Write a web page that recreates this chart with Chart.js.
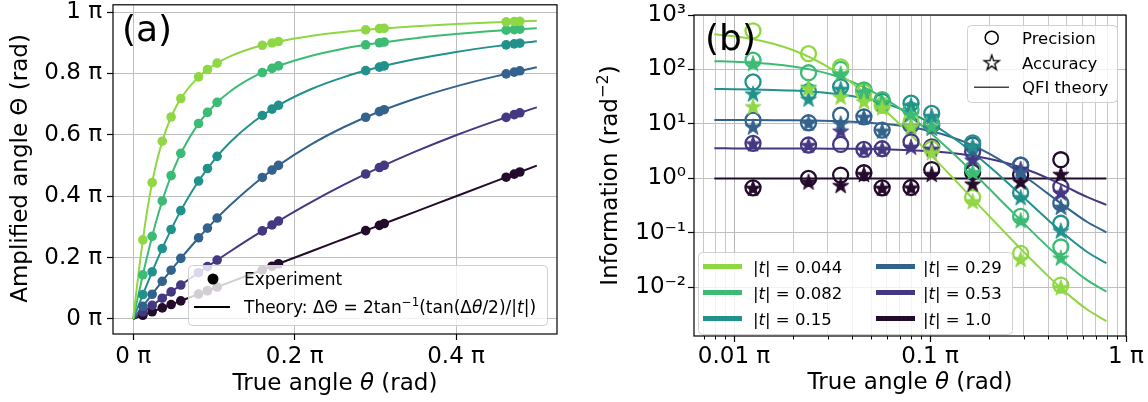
<!DOCTYPE html>
<html><head><meta charset="utf-8">
<script src="https://cdn.jsdelivr.net/npm/chart.js@4.4.1/dist/chart.umd.min.js"></script>
<style>
html,body{margin:0;padding:0;background:#fff;width:1148px;height:402px;overflow:hidden}
#ca{position:absolute;left:0;top:0;width:575px;height:402px}
#cb{position:absolute;left:575px;top:0;width:573px;height:402px}
</style></head><body>
<canvas id="ca" width="575" height="402"></canvas>
<canvas id="cb" width="573" height="402"></canvas>
<script>
// ---------------- data ----------------
const tLabels = ['0.044', '0.082', '0.15', '0.29', '0.53', '1.0'];
const seriesColors = ['#8fd744', '#3cbb75', '#21918c', '#33638d', '#453781', '#230b2b'];

// panel (a): theory curves, theta/pi vs Theta/pi
const thetaA = [0, 0.005, 0.01, 0.015, 0.02, 0.025, 0.03, 0.04, 0.05, 0.06, 0.08, 0.10, 0.12, 0.15, 0.18, 0.22, 0.26, 0.30, 0.35, 0.40, 0.45, 0.50];
const theoryA044 = [0, 0.1125, 0.2183, 0.3130, 0.3948, 0.4640, 0.5221, 0.6115, 0.6755, 0.7227, 0.7866, 0.8275, 0.8557, 0.8846, 0.9043, 0.9226, 0.9355, 0.9452, 0.9544, 0.9615, 0.9672, 0.9720];
const theoryA082 = [0, 0.0608, 0.1205, 0.1782, 0.2330, 0.2845, 0.3323, 0.4166, 0.4869, 0.5451, 0.6335, 0.6959, 0.7416, 0.7905, 0.8248, 0.8574, 0.8808, 0.8984, 0.9153, 0.9285, 0.9391, 0.9479];
const theoryA15  = [0, 0.0333, 0.0664, 0.0992, 0.1315, 0.1631, 0.1939, 0.2528, 0.3076, 0.3580, 0.4456, 0.5173, 0.5758, 0.6445, 0.6965, 0.7487, 0.7876, 0.8177, 0.8472, 0.8704, 0.8893, 0.9052];
const theoryA29  = [0, 0.0172, 0.0345, 0.0516, 0.0687, 0.0857, 0.1026, 0.1360, 0.1687, 0.2006, 0.2615, 0.3182, 0.3704, 0.4402, 0.5005, 0.5683, 0.6241, 0.6706, 0.7186, 0.7582, 0.7916, 0.8203];
const theoryA53  = [0, 0.0094, 0.0189, 0.0283, 0.0377, 0.0471, 0.0565, 0.0752, 0.0939, 0.1124, 0.1490, 0.1849, 0.2200, 0.2708, 0.3192, 0.3799, 0.4359, 0.4875, 0.5460, 0.5988, 0.6464, 0.6897];
const theoryA100 = [0, 0.005, 0.01, 0.015, 0.02, 0.025, 0.03, 0.04, 0.05, 0.06, 0.08, 0.10, 0.12, 0.15, 0.18, 0.22, 0.26, 0.30, 0.35, 0.40, 0.45, 0.50];

// panel (a): experiment
const thetaExp = [0.012, 0.0235, 0.036, 0.047, 0.059, 0.081, 0.092, 0.104, 0.160, 0.172, 0.180, 0.288, 0.305, 0.311, 0.462, 0.472, 0.479];
const expA044 = [0.2577, 0.4445, 0.5794, 0.6583, 0.7185, 0.7891, 0.8131, 0.8339, 0.8920, 0.8997, 0.9043, 0.9425, 0.9462, 0.9474, 0.9685, 0.9694, 0.9701];
const expA082 = [0.1439, 0.2694, 0.3847, 0.4672, 0.5398, 0.6371, 0.6733, 0.7061, 0.8032, 0.8167, 0.8248, 0.8936, 0.9003, 0.9026, 0.9413, 0.9431, 0.9444];
const expA15  = [0.0796, 0.1537, 0.2297, 0.2916, 0.3531, 0.4495, 0.4904, 0.5300, 0.6634, 0.6840, 0.6965, 0.8094, 0.8210, 0.8249, 0.8934, 0.8966, 0.8989];
const expA29  = [0.0413, 0.0806, 0.1227, 0.1590, 0.1974, 0.2645, 0.2961, 0.3290, 0.4613, 0.4854, 0.5005, 0.6575, 0.6759, 0.6820, 0.7989, 0.8047, 0.8088];
const expA53  = [0.0226, 0.0443, 0.0677, 0.0883, 0.1105, 0.1508, 0.1706, 0.1920, 0.2872, 0.3065, 0.3192, 0.4725, 0.4936, 0.5009, 0.6572, 0.6660, 0.6720];
const expA100 = [0.012, 0.0235, 0.036, 0.047, 0.059, 0.081, 0.092, 0.104, 0.160, 0.172, 0.180, 0.288, 0.305, 0.311, 0.462, 0.472, 0.479];

// panel (b): QFI theory
const thetaQ = [0.00794, 0.01, 0.01259, 0.01585, 0.01995, 0.02512, 0.03162, 0.03981, 0.05012, 0.0631, 0.07943, 0.1, 0.1259, 0.1585, 0.1995, 0.2512, 0.3162, 0.3981, 0.5012, 0.631, 0.7943];
const qfi044 = [442.6, 406.5, 357.8, 296.7, 227.7, 159.0, 100.2, 56.88, 29.44, 14.12, 6.400, 2.786, 1.183, 0.4952, 0.2066, 0.08671, 0.03705, 0.01637, 0.007657, 0.003945, 0.002393];
const qfi082 = [142.1, 138.4, 132.9, 124.8, 113.4, 98.32, 79.91, 59.81, 40.61, 24.85, 13.76, 6.983, 3.311, 1.497, 0.6573, 0.2854, 0.1246, 0.05582, 0.02634, 0.01365, 0.008303];
const qfi15  = [43.85, 43.51, 42.97, 42.14, 40.88, 38.99, 36.26, 32.49, 27.61, 21.88, 15.88, 10.44, 6.202, 3.359, 1.689, 0.8073, 0.3764, 0.1761, 0.08547, 0.04505, 0.02769];
const qfi29  = [11.85, 11.83, 11.79, 11.73, 11.64, 11.50, 11.28, 10.94, 10.44, 9.710, 8.706, 7.413, 5.894, 4.309, 2.871, 1.746, 0.9857, 0.5311, 0.2844, 0.1599, 0.1021];
const qfi53  = [3.557, 3.556, 3.553, 3.549, 3.542, 3.532, 3.515, 3.490, 3.450, 3.388, 3.294, 3.153, 2.949, 2.667, 2.303, 1.874, 1.423, 1.010, 0.6821, 0.4567, 0.3265];
const qfi100 = [1, 1, 1, 1, 1, 1, 1, 1, 1, 1, 1, 1, 1, 1, 1, 1, 1, 1, 1, 1, 1];

// panel (b): measured precision / accuracy
const thetaB = [0.0125, 0.024, 0.035, 0.046, 0.057, 0.08, 0.102, 0.165, 0.29, 0.465];
const precB044 = [513, 195, 112, 38, 22, 11, 3.5, 0.45, 0.042, 0.011];
const accB044  = [21, 45, 31.5, 26, 20, 9, 3, 0.38, 0.033, 0.010];
const precB082 = [148, 87, 100, 42, 28, 18, 10, 1.5, 0.2, 0.055];
const accB082  = [130, 48, 84, 38, 25, 15, 9, 1.3, 0.17, 0.035];
const precB15  = [59, 39, 48, 40, 26, 24, 15.6, 4.5, 0.55, 0.15];
const accB15   = [36, 29, 44, 38, 24, 22, 14, 4, 0.45, 0.11];
const precB29  = [11.7, 10.5, 14.5, 13.5, 7.7, 9.5, 9.5, 4.1, 1.75, 0.35];
const accB29   = [8.9, 10.5, 10.2, 13.5, 7.5, 9, 8.5, 3.3, 1.3, 0.3];
const precB53  = [4.4, 4.1, 4.2, 3.4, 3.5, 4.7, 3.8, 3.1, 1.75, 0.7];
const accB53   = [4.4, 4.1, 7.5, 3.4, 3.5, 3.8, 3.5, 2.2, 1.5, 0.55];
const precB100 = [0.67, 1.0, 1.15, 1.27, 0.67, 0.68, 1.45, 1.3, 1.15, 2.2];
const accB100  = [0.67, 0.87, 0.75, 1.2, 0.67, 0.68, 1.2, 0.8, 0.87, 1.2];

// tick values / labels
const xTicksA = [0, 0.2, 0.4];
const xTickLabelsA = ['0 π', '0.2 π', '0.4 π'];
const yTicksA = [0, 0.2, 0.4, 0.6, 0.8, 1.0];
const yTickLabelsA = ['0 π', '0.2 π', '0.4 π', '0.6 π', '0.8 π', '1 π'];
const xTicksB = [0.007, 0.008, 0.009, 0.01, 0.02, 0.03, 0.04, 0.05, 0.06, 0.07, 0.08, 0.09, 0.1, 0.2, 0.3, 0.4, 0.5, 0.6, 0.7, 0.8, 0.9, 1];
const xMajorB = [0.01, 0.1, 1];
const xMajorLabelsB = ['0.01 π', '0.1 π', '1 π'];
const yTicksB = [0.01, 0.1, 1, 10, 100, 1000];
const yTickLabelsB = ['10⁻²', '10⁻¹', '10⁰', '10¹', '10²', '10³'];

// ---------------- helpers ----------------
const FF = '"DejaVu Sans", "Liberation Sans", sans-serif';
Chart.defaults.font.family = FF;
function fnt(sz, it) { return (it ? 'italic ' : '') + sz + 'px ' + FF; }
function rich(ctx, segs, x, y, sz, align) {
  let w = 0;
  for (const s of segs) { ctx.font = fnt(s.sup ? sz * 0.7 : sz, s.it); w += ctx.measureText(s.t).width; }
  let cx = align === 'center' ? x - w / 2 : (align === 'right' ? x - w : x);
  ctx.textAlign = 'left'; ctx.textBaseline = 'alphabetic'; ctx.fillStyle = '#000';
  for (const s of segs) {
    const z = s.sup ? sz * 0.7 : sz;
    ctx.font = fnt(z, s.it);
    ctx.fillText(s.t, cx, y - (s.sup ? sz * 0.4 : 0));
    cx += ctx.measureText(s.t).width;
  }
}
function rrect(ctx, x, y, w, h, r) {
  ctx.beginPath(); ctx.moveTo(x + r, y);
  ctx.arcTo(x + w, y, x + w, y + h, r); ctx.arcTo(x + w, y + h, x, y + h, r);
  ctx.arcTo(x, y + h, x, y, r); ctx.arcTo(x, y, x + w, y, r); ctx.closePath();
}
function starPath(g, cx, cy, R) {
  const r = R * 0.382;
  g.beginPath();
  for (let k = 0; k < 10; k++) {
    const ang = -Math.PI / 2 + k * Math.PI / 5, rr = (k % 2) ? r : R;
    const px = cx + rr * Math.cos(ang), py = cy + rr * Math.sin(ang);
    if (k === 0) g.moveTo(px, py); else g.lineTo(px, py);
  }
  g.closePath();
}
function makeStar(fill, stroke, R, lw) {
  const c = document.createElement('canvas');
  const s = Math.ceil(2 * R + lw + 4); c.width = s; c.height = s;
  const g = c.getContext('2d');
  starPath(g, s / 2, s / 2 + R * 0.1, R);
  if (fill) { g.fillStyle = fill; g.fill(); }
  if (stroke) { g.strokeStyle = stroke; g.lineWidth = lw; g.lineJoin = 'miter'; g.stroke(); }
  return c;
}
function fixBox(w, h) {
  return function (s) {
    if (w !== null) s.width = w;
    if (h !== null) s.height = h;
    s.paddingLeft = 0; s.paddingRight = 0; s.paddingTop = 0; s.paddingBottom = 0;
  };
}

// ---------------- panel (a) ----------------
const curvesA = [theoryA044, theoryA082, theoryA15, theoryA29, theoryA53, theoryA100];
const expsA = [expA044, expA082, expA15, expA29, expA53, expA100];
const dsA = [];
curvesA.forEach((arr, i) => dsA.push({
  data: thetaA.map((x, j) => ({ x, y: arr[j] })), showLine: true, borderColor: seriesColors[i],
  borderWidth: 2, pointRadius: 0, cubicInterpolationMode: 'monotone', fill: false, order: 2
}));
expsA.forEach((arr, i) => dsA.push({
  data: thetaExp.map((x, j) => ({ x, y: arr[j] })), showLine: false, pointRadius: 4.8,
  pointBackgroundColor: seriesColors[i], pointBorderColor: seriesColors[i], pointBorderWidth: 0, order: 1
}));

const decorA = {
  id: 'decorA',
  afterDraw(chart) {
    const ctx = chart.ctx, a = chart.chartArea;
    ctx.save();
    ctx.strokeStyle = '#000'; ctx.lineWidth = 1.2;
    ctx.strokeRect(a.left, a.top, a.right - a.left, a.bottom - a.top);
    // legend
    rrect(ctx, 188.5, 265.5, 359, 60, 4);
    ctx.fillStyle = 'rgba(255,255,255,0.8)'; ctx.fill();
    ctx.strokeStyle = '#d0d0d0'; ctx.lineWidth = 1; ctx.stroke();
    ctx.fillStyle = '#000'; ctx.beginPath(); ctx.arc(213, 279, 5.5, 0, Math.PI * 2); ctx.fill();
    rich(ctx, [{ t: 'Experiment' }], 244, 285, 17, 'left');
    ctx.strokeStyle = '#000'; ctx.lineWidth = 2;
    ctx.beginPath(); ctx.moveTo(194, 307); ctx.lineTo(230, 307); ctx.stroke();
    rich(ctx, [{ t: 'Theory: ΔΘ = 2tan' }, { t: '−1', sup: 1 }, { t: '(tan(Δ' }, { t: 'θ', it: 1 },
      { t: '/2)/|' }, { t: 't', it: 1 }, { t: '|)' }], 244, 313, 17, 'left');
    // panel label
    rich(ctx, [{ t: '(a)' }], 122, 40.5, 36, 'left');
    // axis titles
    rich(ctx, [{ t: 'True angle ' }, { t: 'θ', it: 1 }, { t: ' (rad)' }], 335, 390, 23, 'center');
    ctx.save(); ctx.translate(27, 168.5); ctx.rotate(-Math.PI / 2);
    rich(ctx, [{ t: 'Amplified angle Θ (rad)' }], 0, 0, 23, 'center');
    ctx.restore();
    ctx.restore();
  }
};

new Chart(document.getElementById('ca'), {
  type: 'scatter',
  data: { datasets: dsA },
  options: {
    responsive: false, animation: false, devicePixelRatio: 1, events: [],
    layout: { padding: { left: 0, top: 3, right: 18, bottom: 0 } },
    plugins: { legend: { display: false }, tooltip: { enabled: false } },
    scales: {
      x: {
        type: 'linear', min: -0.025, max: 0.525, bounds: 'data',
        afterBuildTicks: s => { s.ticks = xTicksA.map(v => ({ value: v })); },
        afterFit: fixBox(null, 68),
        ticks: { autoSkip: false, maxRotation: 0, minRotation: 0, padding: 3, color: '#000',
          font: { size: 23, family: FF }, callback: (v, i) => xTickLabelsA[i] },
        grid: { color: '#bfbfbf', lineWidth: 1, tickLength: 6, tickColor: '#000', tickWidth: 1.2 },
        border: { display: false }
      },
      y: {
        type: 'linear', min: -0.049, max: 1.024, bounds: 'data',
        afterBuildTicks: s => { s.ticks = yTicksA.map(v => ({ value: v })); },
        afterFit: fixBox(113, null),
        ticks: { autoSkip: false, padding: 5, color: '#000',
          font: { size: 23, family: FF }, callback: (v, i) => yTickLabelsA[i] },
        grid: { color: '#bfbfbf', lineWidth: 1, tickLength: 6, tickColor: '#000', tickWidth: 1.2 },
        border: { display: false }
      }
    }
  },
  plugins: [decorA]
});

// ---------------- panel (b) ----------------
const qfiB = [qfi044, qfi082, qfi15, qfi29, qfi53, qfi100];
const precB = [precB044, precB082, precB15, precB29, precB53, precB100];
const accB = [accB044, accB082, accB15, accB29, accB53, accB100];
const starImgs = seriesColors.map(c => makeStar(c, c, 8.5, 1));
const dsB = [];
qfiB.forEach((arr, i) => dsB.push({
  data: thetaQ.map((x, j) => ({ x, y: arr[j] })), showLine: true, borderColor: seriesColors[i],
  borderWidth: 2, pointRadius: 0, cubicInterpolationMode: 'monotone', fill: false, order: 3
}));
precB.forEach((arr, i) => dsB.push({
  data: thetaB.map((x, j) => ({ x, y: arr[j] })), showLine: false, pointStyle: 'circle', pointRadius: 7.5,
  pointBackgroundColor: 'rgba(0,0,0,0)', pointBorderColor: seriesColors[i], pointBorderWidth: 2.3, order: 2
}));
accB.forEach((arr, i) => dsB.push({
  data: thetaB.map((x, j) => ({ x, y: arr[j] })), showLine: false, pointStyle: starImgs[i], pointRadius: 8,
  pointBackgroundColor: seriesColors[i], pointBorderColor: seriesColors[i], order: 1
}));

const legendStar = makeStar('#fff', '#000', 8, 1.3);
const decorB = {
  id: 'decorB',
  afterDraw(chart) {
    const ctx = chart.ctx, a = chart.chartArea, xs = chart.scales.x;
    ctx.save();
    // minor ticks
    ctx.strokeStyle = '#000'; ctx.lineWidth = 1;
    xTicksB.forEach(v => {
      if (xMajorB.indexOf(v) >= 0) return;
      const px = Math.round(xs.getPixelForValue(v)) + 0.5;
      ctx.beginPath(); ctx.moveTo(px, a.bottom); ctx.lineTo(px, a.bottom + 3.5); ctx.stroke();
    });
    ctx.strokeStyle = '#000'; ctx.lineWidth = 1.2;
    ctx.strokeRect(a.left, a.top, a.right - a.left, a.bottom - a.top);
    // upper right legend
    rrect(ctx, 392.5, 25.5, 150, 77, 4);
    ctx.fillStyle = 'rgba(255,255,255,0.8)'; ctx.fill();
    ctx.strokeStyle = '#d0d0d0'; ctx.lineWidth = 1; ctx.stroke();
    ctx.strokeStyle = '#000'; ctx.lineWidth = 1.5;
    ctx.beginPath(); ctx.arc(416.7, 37.7, 6.5, 0, Math.PI * 2); ctx.stroke();
    ctx.drawImage(legendStar, 416.7 - legendStar.width / 2, 62.3 - legendStar.height / 2);
    ctx.strokeStyle = '#444'; ctx.lineWidth = 1.5;
    ctx.beginPath(); ctx.moveTo(399, 87.3); ctx.lineTo(434, 87.3); ctx.stroke();
    rich(ctx, [{ t: 'Precision' }], 447, 44, 16.5, 'left');
    rich(ctx, [{ t: 'Accuracy' }], 447, 68.5, 16.5, 'left');
    rich(ctx, [{ t: 'QFI theory' }], 447, 93, 16.5, 'left');
    // lower left legend
    rrect(ctx, 123.5, 252.5, 314, 82, 4);
    ctx.fillStyle = 'rgba(255,255,255,0.8)'; ctx.fill();
    ctx.strokeStyle = '#d0d0d0'; ctx.lineWidth = 1; ctx.stroke();
    const rowsY = [266.5, 292.5, 318.5];
    tLabels.forEach((lab, i) => {
      const col = i < 3 ? 0 : 1, row = i % 3;
      const hx = col === 0 ? 128 : 301, tx = col === 0 ? 178 : 348;
      ctx.strokeStyle = seriesColors[i]; ctx.lineWidth = 5;
      ctx.beginPath(); ctx.moveTo(hx, rowsY[row]); ctx.lineTo(hx + 39, rowsY[row]); ctx.stroke();
      rich(ctx, [{ t: '|' }, { t: 't', it: 1 }, { t: '| = ' + lab }], tx, rowsY[row] + 6, 16.5, 'left');
    });
    // panel label
    rich(ctx, [{ t: '(b)' }], 130, 50, 36, 'left');
    // axis titles
    rich(ctx, [{ t: 'True angle ' }, { t: 'θ', it: 1 }, { t: ' (rad)' }], 335, 389, 23, 'center');
    ctx.save(); ctx.translate(42, 175.5); ctx.rotate(-Math.PI / 2);
    rich(ctx, [{ t: 'Information (rad' }, { t: '−2', sup: 1 }, { t: ')' }], 0, 0, 23, 'center');
    ctx.restore();
    ctx.restore();
  }
};

new Chart(document.getElementById('cb'), {
  type: 'scatter',
  data: { datasets: dsB },
  options: {
    responsive: false, animation: false, devicePixelRatio: 1, events: [],
    layout: { padding: { left: 0, top: 15, right: 22, bottom: 0 } },
    plugins: { legend: { display: false }, tooltip: { enabled: false } },
    scales: {
      x: {
        type: 'logarithmic', min: 0.00625, max: 1, bounds: 'data',
        afterBuildTicks: s => { s.ticks = xTicksB.map(v => ({ value: v, major: xMajorB.indexOf(v) >= 0 })); },
        afterFit: fixBox(null, 66),
        ticks: { autoSkip: false, maxRotation: 0, minRotation: 0, padding: 1, color: '#000',
          font: { size: 23, family: FF },
          callback: (v, i) => { const k = xMajorB.indexOf(xTicksB[i]); return k >= 0 ? xMajorLabelsB[k] : ''; } },
        grid: { color: ctx => (ctx.tick && xMajorB.indexOf(ctx.tick.value) >= 0) ? '#b5b5b5' : '#c8c8c8',
          lineWidth: 1, tickLength: 6, tickWidth: 1.2,
          tickColor: ctx => (ctx.tick && xMajorB.indexOf(ctx.tick.value) >= 0) ? '#000' : 'rgba(0,0,0,0)' },
        border: { display: false }
      },
      y: {
        type: 'logarithmic', min: 0.001276, max: 1000, bounds: 'data',
        afterBuildTicks: s => { s.ticks = yTicksB.map(v => ({ value: v, major: true })); },
        afterFit: fixBox(119, null),
        ticks: { autoSkip: false, padding: 2, color: '#000',
          font: { size: 23, family: FF }, callback: (v, i) => yTickLabelsB[i] },
        grid: { color: '#bfbfbf', lineWidth: 1, tickLength: 6, tickColor: '#000', tickWidth: 1.2 },
        border: { display: false }
      }
    }
  },
  plugins: [decorB]
});
</script>
</body></html>
